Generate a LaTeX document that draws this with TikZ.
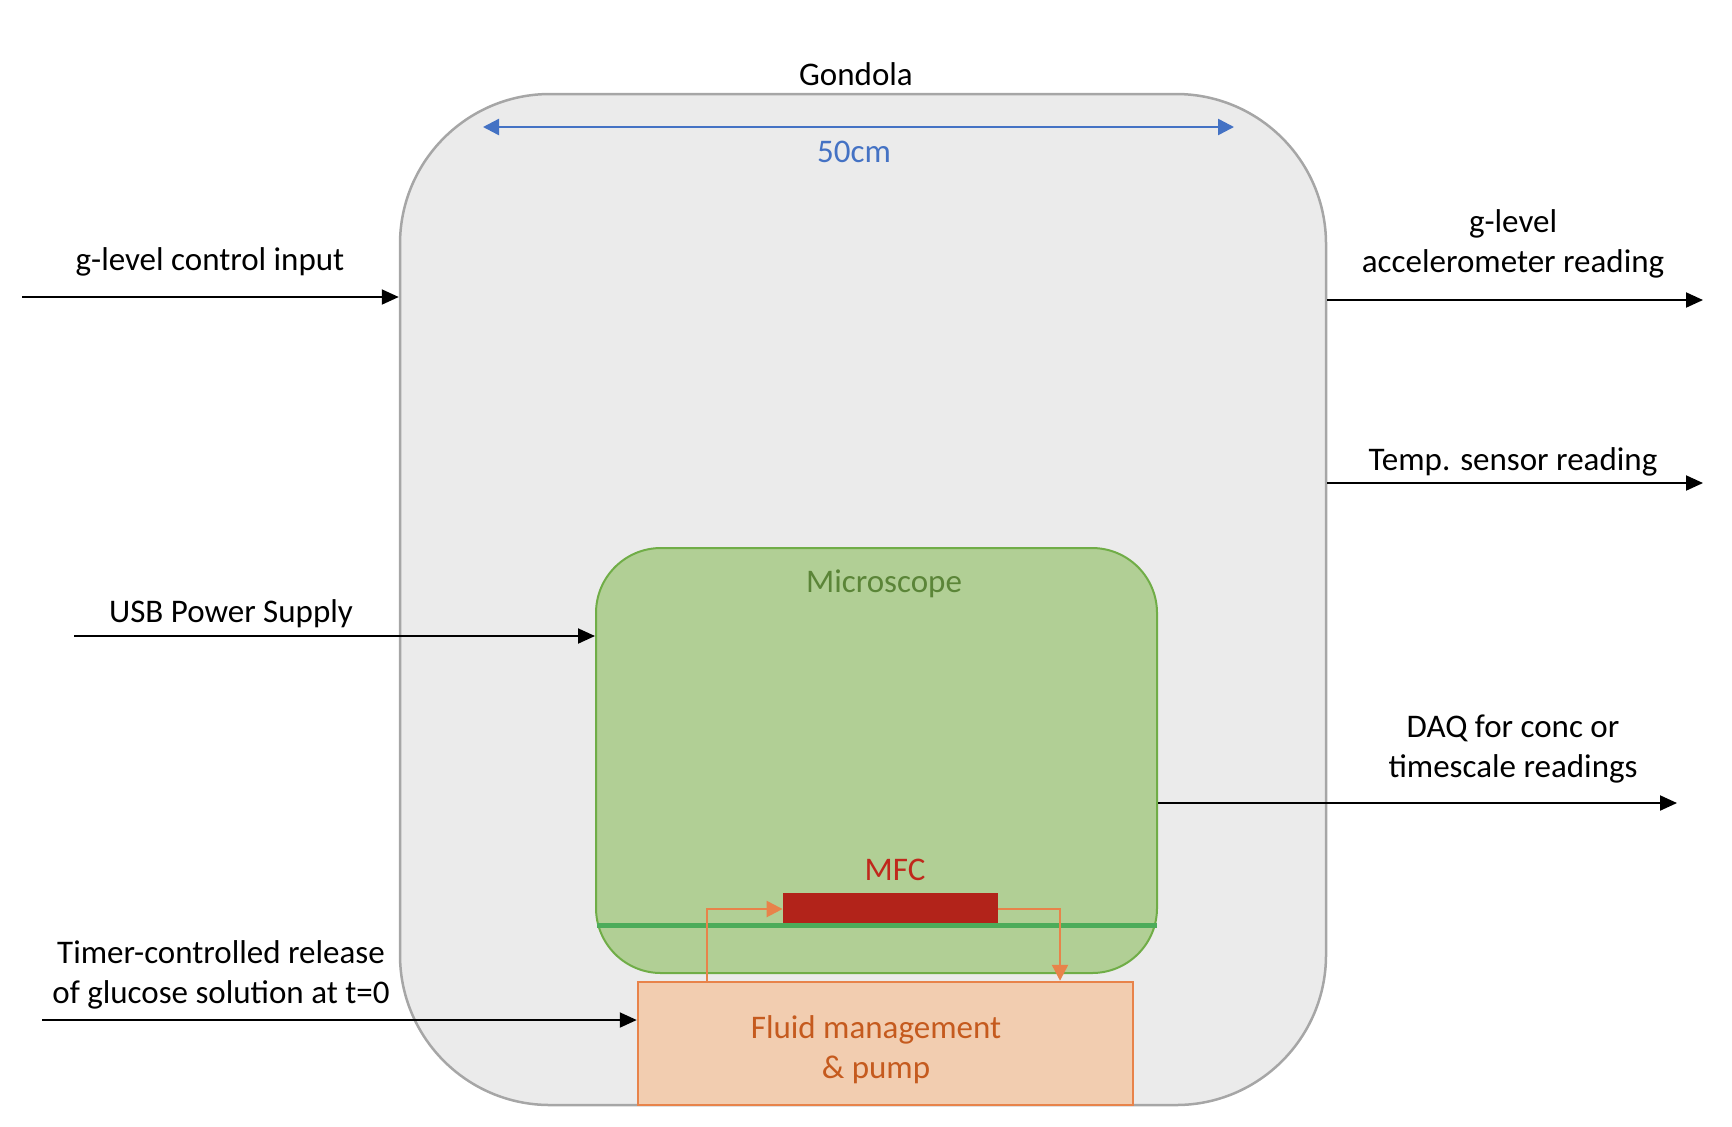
\documentclass[tikz,border=0pt]{standalone}
\usepackage{fontspec}
\setmainfont{Carlito}
\usetikzlibrary{arrows.meta}
\definecolor{gonfill}{HTML}{EBEBEB}
\definecolor{gondraw}{HTML}{A6A6A6}
\definecolor{micfill}{HTML}{B1CF95}
\definecolor{micdraw}{HTML}{70AD47}
\definecolor{mictext}{HTML}{5B8538}
\definecolor{greenline}{HTML}{4CAC5A}
\definecolor{mfcred}{HTML}{B2231A}
\definecolor{mfctext}{HTML}{C0281C}
\definecolor{flufill}{HTML}{F2CDB0}
\definecolor{fludraw}{HTML}{E8834A}
\definecolor{flutext}{HTML}{C55A1E}
\definecolor{dimblue}{HTML}{4472C4}
\tikzset{
  lbl/.style={align=center, inner sep=0pt, font=\fontsize{16.5}{20}\selectfont},
  arr/.style={line width=1pt, -{Triangle[length=8.5pt,width=7.5pt]}},
  oarr/.style={line width=1.2pt, fludraw, -{Triangle[length=8pt,width=8pt]}},
  barr/.style={line width=1.2pt, dimblue, {Triangle[length=8pt,width=8pt]}-{Triangle[length=8pt,width=8pt]}},
}
\begin{document}
\begin{tikzpicture}[x=0.5pt,y=-0.5pt]
\useasboundingbox (0,0) rectangle (1732,1126);
% Gondola
\node[draw=gondraw, fill=gonfill, line width=1.25pt, rounded corners=75pt,
      minimum width=463pt, minimum height=505.5pt, inner sep=0pt] (gondola) at (863,599.5) {};
\node[lbl] (gonlbl) at (856,74) {Gondola};
% 50cm dimension
\coordinate (dimL) at (483,127);
\coordinate (dimR) at (1234,127);
\draw[barr] (dimL) -- (dimR);
\node[lbl, text=dimblue] (dimlbl) at (854,152) {50cm};
% Microscope
\node[draw=micdraw, fill=micfill, line width=1pt, rounded corners=32.5pt,
      minimum width=280.5pt, minimum height=212.5pt, inner sep=0pt] (mic) at (876.5,760.5) {};
\node[lbl, text=mictext] (miclbl) at (884,584) {Microscope};
% green line
\coordinate (glL) at (597,925);
\coordinate (glR) at (1157,925);
\draw[greenline, line width=2.5pt] (glL) -- (glR);
% MFC
\node[fill=mfcred, minimum width=107.5pt, minimum height=15pt, inner sep=0pt] (mfc) at (890.5,907.5) {};
\node[lbl, text=mfctext] (mfclbl) at (895,870) {MFC};
% Fluid management
\node[draw=fludraw, fill=flufill, line width=1.25pt,
      minimum width=247.5pt, minimum height=61.5pt, inner sep=0pt] (fluid) at (885.5,1043.5) {};
\node[lbl, text=flutext] (flulbl) at (876,1050) {Fluid management\\\& pump};
% orange loop
\coordinate (p1) at (707,909);
\coordinate (p2) at (1060,909);
\draw[oarr] (p1 |- fluid.north) -- (p1) -- (p1 -| mfc.west);
\draw[oarr] (p2 -| mfc.east) -- (p2) -- (p2 |- fluid.north);
% inputs
\coordinate (in1) at (22,297);
\draw[arr] (in1) -- (in1 -| gondola.west);
\node[lbl] (in1lbl) at (210,262) {g-level control input};
\coordinate (in2) at (74,636);
\draw[arr] (in2) -- (in2 -| mic.west);
\node[lbl] (in2lbl) at (231,614) {USB Power Supply};
\coordinate (in3) at (42,1020);
\draw[arr] (in3) -- (in3 -| fluid.west);
\node[lbl] (in3lbl) at (221,975) {Timer-controlled release\\of glucose solution at t=0};
% outputs
\coordinate (out1) at (1703,300);
\draw[arr] (out1 -| gondola.east) -- (out1);
\node[lbl] (out1lbl) at (1513,244) {g-level\\accelerometer reading};
\coordinate (out2) at (1703,483);
\draw[arr] (out2 -| gondola.east) -- (out2);
\node[lbl] (out2lbl) at (1513,462) {Temp. sensor reading};
\coordinate (out3) at (1677,803);
\draw[arr] (out3 -| mic.east) -- (out3);
\node[lbl] (out3lbl) at (1513,749) {DAQ for conc or\\timescale readings};
\end{tikzpicture}
\end{document}
